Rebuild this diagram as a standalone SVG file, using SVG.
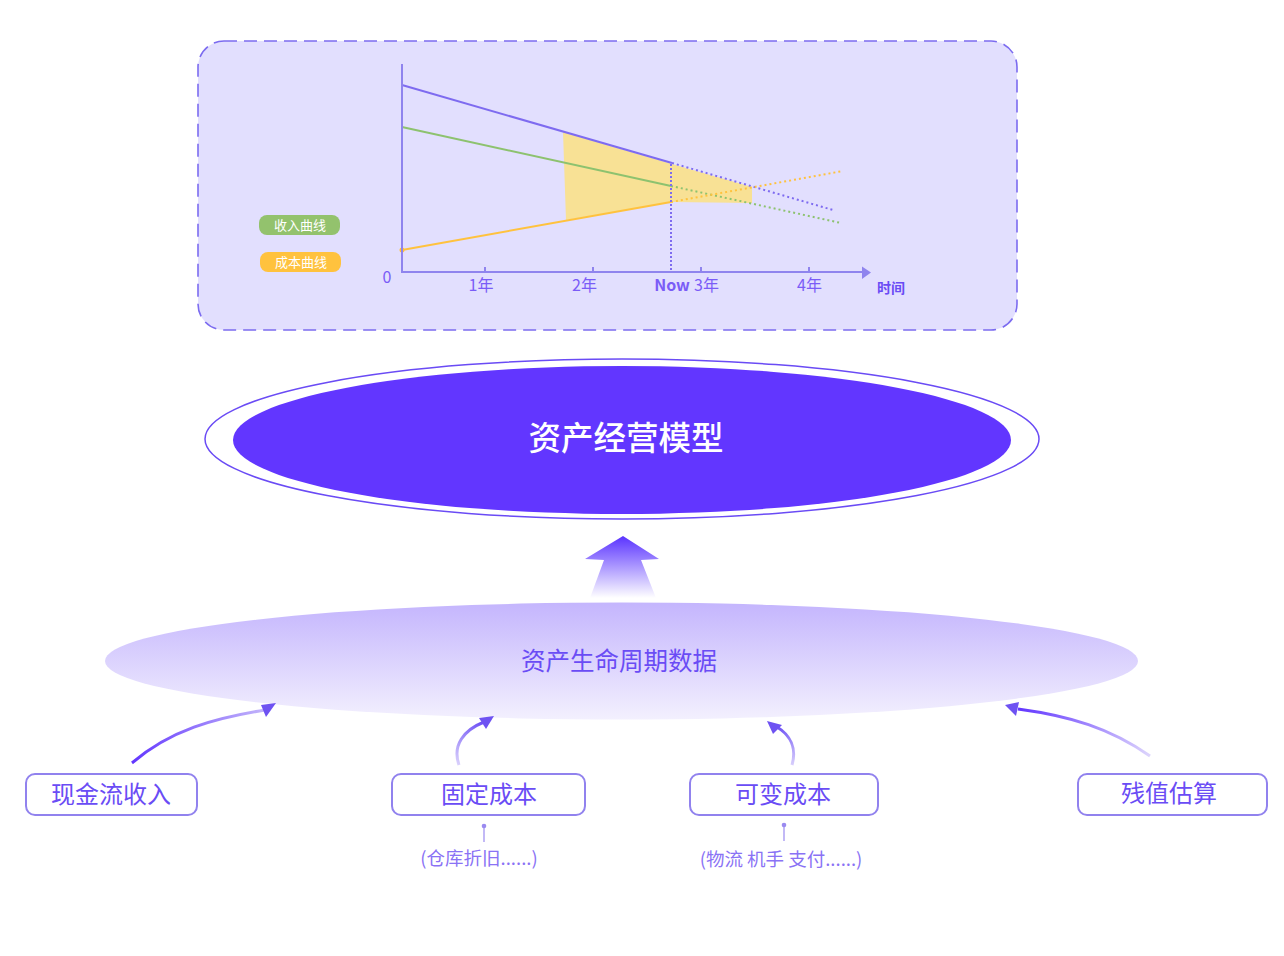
<svg xmlns="http://www.w3.org/2000/svg" width="1284" height="956" viewBox="0 0 1284 956">
<defs>
<style>
.cjk{font-family:"Noto Sans CJK SC","Noto Sans",sans-serif;}
.lbl{font-size:16px;fill:#7A5CF7;}
.box{fill:#fff;stroke:#9182EE;stroke-width:2;}
.boxt{font-size:24px;fill:#6A4CF5;text-anchor:middle;}
.sub{fill:#8A72F5;text-anchor:middle;}
.axis{stroke:#8F84EE;stroke-width:2;fill:none;}
.arrowhead{fill:#6E52F2;}
</style>
<linearGradient id="gLow" x1="0" y1="0" x2="0" y2="1">
<stop offset="0" stop-color="#C4B5FD"/>
<stop offset="1" stop-color="#F3F0FE"/>
</linearGradient>
<linearGradient id="gUp" x1="0" y1="0" x2="0" y2="1">
<stop offset="0" stop-color="#5A33FF"/>
<stop offset="1" stop-color="#5A33FF" stop-opacity="0"/>
</linearGradient>
<linearGradient id="gA1" gradientUnits="userSpaceOnUse" x1="132" y1="763" x2="265" y2="710">
<stop offset="0" stop-color="#6236FF"/>
<stop offset="1" stop-color="#C2B4FA"/>
</linearGradient>
<linearGradient id="gA2" gradientUnits="userSpaceOnUse" x1="460" y1="765" x2="485" y2="722">
<stop offset="0" stop-color="#D8CFFC"/>
<stop offset="1" stop-color="#6A4CF5"/>
</linearGradient>
<linearGradient id="gA3" gradientUnits="userSpaceOnUse" x1="793" y1="765" x2="776" y2="726">
<stop offset="0" stop-color="#D8CFFC"/>
<stop offset="1" stop-color="#6A4CF5"/>
</linearGradient>
<linearGradient id="gA4" gradientUnits="userSpaceOnUse" x1="1150" y1="756" x2="1018" y2="709">
<stop offset="0" stop-color="#DDD5FC"/>
<stop offset="1" stop-color="#6236FF"/>
</linearGradient>
</defs>
<rect width="1284" height="956" fill="#fff"/>

<g id="chart-panel">
<rect x="198" y="41" width="819" height="289" rx="26" ry="26" fill="#E2DFFE" stroke="#7C6CF0" stroke-width="1.6" stroke-dasharray="13 7"/>
<polygon points="563,132 672,164 752,187 752,203 672,202 566,220" fill="#F8E195"/>
<line x1="402" y1="85" x2="672" y2="163" stroke="#7E6BF0" stroke-width="2"/>
<line x1="672" y1="163" x2="833" y2="210" stroke="#7E6BF0" stroke-width="2" stroke-dasharray="2 3"/>
<line x1="402" y1="127" x2="671" y2="186" stroke="#8DC26F" stroke-width="2"/>
<line x1="671" y1="186" x2="841" y2="223" stroke="#8DC26F" stroke-width="2" stroke-dasharray="2 3"/>
<line x1="402" y1="250" x2="671" y2="202" stroke="#FFC23E" stroke-width="2"/>
<line x1="671" y1="202" x2="843" y2="171" stroke="#FFC23E" stroke-width="2" stroke-dasharray="2 3"/>
<circle cx="402" cy="250" r="2.5" fill="#FFC23E"/>
<line x1="671" y1="164" x2="671" y2="272" stroke="#7E6BF0" stroke-width="2" stroke-dasharray="2 2"/>
<path class="axis" d="M402,64 V272 H862"/>
<polygon points="862,266.5 871,272.5 862,279" fill="#8F84EE"/>
<path class="axis" d="M485,267 V272 M593,267 V272 M701,267 V272 M809,267 V272"/>
<rect x="259" y="215" width="81" height="20" rx="8" fill="#93C26D"/>
<rect x="260" y="252" width="81" height="20" rx="8" fill="#FFC23E"/>
<text class="cjk" x="300" y="230" font-size="13" fill="#fff" text-anchor="middle">收入曲线</text>
<text class="cjk" x="301" y="267" font-size="13" fill="#fff" text-anchor="middle">成本曲线</text>
<text class="cjk lbl" x="387" y="283" text-anchor="middle">0</text>
<text class="cjk lbl" x="481" y="291" text-anchor="middle">1年</text>
<text class="cjk lbl" x="584.5" y="291" text-anchor="middle">2年</text>
<text class="cjk lbl" x="672" y="291" text-anchor="middle" font-weight="bold">Now</text>
<text class="cjk lbl" x="706.5" y="291" text-anchor="middle">3年</text>
<text class="cjk lbl" x="809.5" y="291" text-anchor="middle">4年</text>
<text class="cjk" x="891" y="293" font-size="14" fill="#6A4CF5" text-anchor="middle" font-weight="bold">时间</text>
</g>

<g id="model">
<ellipse cx="622" cy="439" rx="417" ry="80" fill="none" stroke="#6A4BF5" stroke-width="1.5"/>
<ellipse cx="622" cy="440" rx="389" ry="74" fill="#6236FF"/>
<text class="cjk" x="626" y="449.5" font-size="32.5" fill="#fff" text-anchor="middle" font-weight="500">资产经营模型</text>
</g>

<g id="up-arrow">
<polygon points="623,536 659,559 641,560 656,598 590,598 604,560 585,559" fill="url(#gUp)"/>
</g>

<g id="lifecycle">
<ellipse cx="621.5" cy="661" rx="516.5" ry="58.5" fill="url(#gLow)"/>
<text class="cjk" x="619" y="670" font-size="24.5" fill="#6A4CF5" text-anchor="middle">资产生命周期数据</text>
</g>

<g id="connectors">
<path d="M132,763 C170,730 215,718 265,710" fill="none" stroke="url(#gA1)" stroke-width="3"/>
<polygon class="arrowhead" points="276,703 261,705 266,717"/>
<path d="M459,765 C452,745 464,730 484,722" fill="none" stroke="url(#gA2)" stroke-width="3"/>
<polygon class="arrowhead" points="494,716 479,718 486,729"/>
<path d="M792,765 C797,748 790,735 777,727" fill="none" stroke="url(#gA3)" stroke-width="3"/>
<polygon class="arrowhead" points="767,721 773,734 782,725"/>
<path d="M1150,756 C1110,728 1070,716 1018,709" fill="none" stroke="url(#gA4)" stroke-width="3"/>
<polygon class="arrowhead" points="1005,705 1016,716 1019,702"/>
<line x1="484" y1="826" x2="484" y2="842" stroke="#9A8AF0" stroke-width="1.2"/>
<circle cx="484" cy="826" r="2.3" fill="#9A8AF0"/>
<line x1="784" y1="825" x2="784" y2="841" stroke="#9A8AF0" stroke-width="1.2"/>
<circle cx="784" cy="825" r="2.3" fill="#9A8AF0"/>
</g>

<g id="node-cashflow">
<rect class="box" x="26" y="774" width="171" height="41" rx="9"/>
<text class="cjk boxt" x="111" y="803">现金流收入</text>
</g>
<g id="node-fixed">
<rect class="box" x="392" y="774" width="193" height="41" rx="9"/>
<text class="cjk boxt" x="489" y="803">固定成本</text>
<text class="cjk sub" x="479" y="865" font-size="18.5">(仓库折旧......)</text>
</g>
<g id="node-variable">
<rect class="box" x="690" y="774" width="188" height="41" rx="9"/>
<text class="cjk boxt" x="783" y="803">可变成本</text>
<text class="cjk sub" x="781" y="866" font-size="18.5">(物流 机手 支付......)</text>
</g>
<g id="node-residual">
<rect class="box" x="1078" y="774" width="189" height="41" rx="9"/>
<text class="cjk boxt" x="1169" y="802">残值估算</text>
</g>
</svg>
